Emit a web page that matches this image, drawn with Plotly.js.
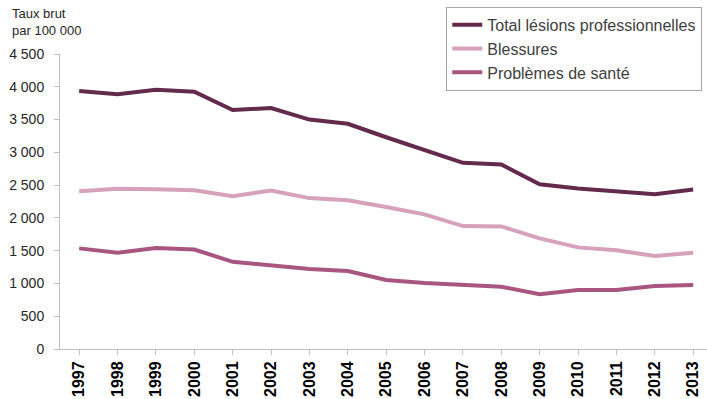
<!DOCTYPE html>
<html>
<head>
<meta charset="utf-8">
<script src="https://cdn.plot.ly/plotly-3.0.1.min.js"></script>
<style>html,body{margin:0;padding:0;background:#fff;}#chart{width:707px;height:399px;}</style>
</head>
<body>
<div id="chart"></div>
<script>
const years = [1997,1998,1999,2000,2001,2002,2003,2004,2005,2006,2007,2008,2009,2010,2011,2012,2013];
const yearLabels = years.map(String);
const totalLesions = [3935,3885,3955,3925,3645,3675,3500,3435,3230,3040,2840,2815,2512,2450,2400,2360,2433];
const blessures = [2408,2445,2435,2422,2330,2418,2302,2270,2165,2053,1875,1870,1688,1550,1505,1418,1468];
const problemesSante = [1535,1468,1542,1518,1330,1280,1220,1190,1052,1008,975,950,835,899,899,962,975];
const yTickVals = [0,500,1000,1500,2000,2500,3000,3500,4000,4500];
const yTickLabels = ["0","500","1 000","1 500","2 000","2 500","3 000","3 500","4 000","4 500"];
const seriesNames = ["Total lésions professionnelles","Blessures","Problèmes de santé"];

const narrow = '"Liberation Sans Narrow", "Arial Narrow", "Liberation Sans", Arial, sans-serif';
const colors = ["#632a4c","#d6a1bb","#a8557f"];
const series = [totalLesions, blessures, problemesSante];

const traces = series.map((vals, i) => ({
  x: years, y: vals, name: seriesNames[i], type: 'scatter', mode: 'lines',
  line: {color: colors[i], width: 4}
}));

const layout = {
  width: 707, height: 399,
  margin: {l: 60, r: 0, t: 54, b: 50, autoexpand: false},
  paper_bgcolor: '#fff', plot_bgcolor: '#fff',
  showlegend: true,
  legend: {
    x: 0.597, y: 1.16, xanchor: 'left', yanchor: 'top',
    bgcolor: '#fff', bordercolor: '#a6a6a6', borderwidth: 1,
    font: {family: narrow, size: 16, color: '#404040'},
    tracegroupgap: 0, itemwidth: 30
  },
  xaxis: {
    range: [1996.5, 2013.36], tickvals: years, ticktext: yearLabels,
    tickangle: -90, tickfont: {family: 'Liberation Sans, Arial, sans-serif', size: 16, color: '#000', weight: 'bold'},
    showline: true, linecolor: '#bfbfbf', linewidth: 1,
    ticks: 'outside', ticklen: 5, tickcolor: '#bfbfbf',
    showgrid: false, zeroline: false, fixedrange: true
  },
  yaxis: {
    range: [0, 4500], tickvals: yTickVals, ticktext: yTickLabels,
    tickfont: {family: narrow, size: 14, color: '#262626'},
    showline: true, linecolor: '#bfbfbf', linewidth: 1,
    ticks: 'outside', ticklen: 5, tickcolor: '#bfbfbf',
    ticklabelstandoff: 7,
    showgrid: false, zeroline: false, fixedrange: true
  },
  annotations: [{
    xref: 'paper', yref: 'paper', x: -0.077, y: 1.0, xanchor: 'left', yanchor: 'bottom',
    yshift: 14, align: 'left', showarrow: false,
    text: 'Taux brut<br>par 100 000',
    font: {family: narrow, size: 13, color: '#262626'}
  }]
};

Plotly.newPlot('chart', traces, layout, {displayModeBar: false, staticPlot: true});
</script>
</body>
</html>
